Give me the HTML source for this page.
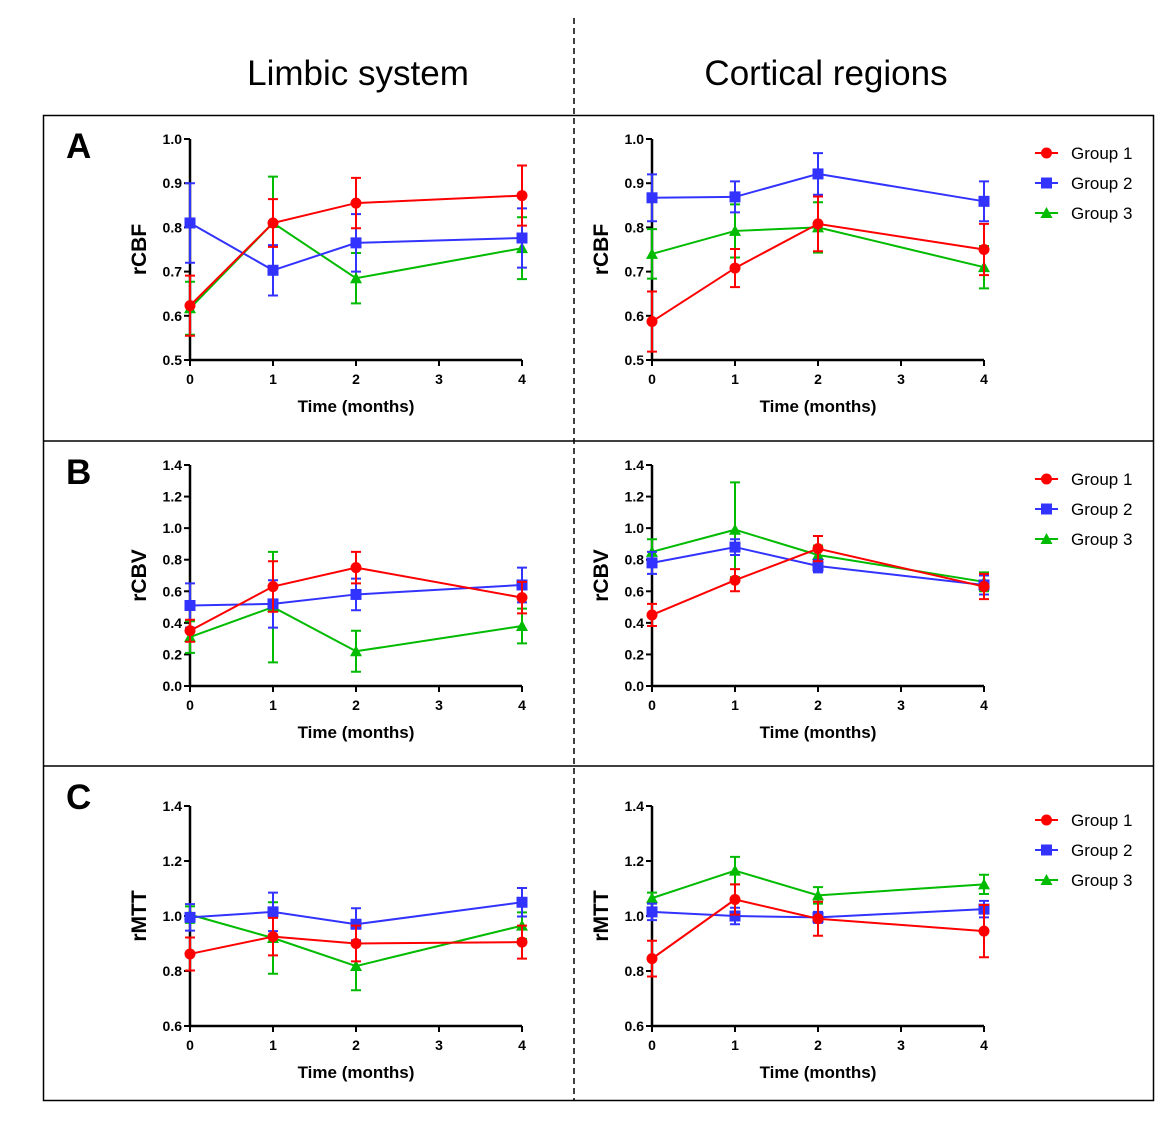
<!DOCTYPE html>
<html><head><meta charset="utf-8">
<style>
html,body{margin:0;padding:0;background:#fff;}
svg{display:block;font-family:"Liberation Sans",Arial,sans-serif;}
</style></head>
<body>
<svg id="fig" width="1174" height="1125" viewBox="0 0 1174 1125" xmlns="http://www.w3.org/2000/svg">
<rect x="0" y="0" width="1174" height="1125" fill="#fff"/>
<text x="358" y="85" font-size="35" text-anchor="middle">Limbic system</text>
<text x="826" y="85" font-size="35" text-anchor="middle">Cortical regions</text>
<rect x="43.5" y="115.5" width="1110" height="985" fill="none" stroke="#000" stroke-width="1.5"/>
<line x1="43" y1="441" x2="1153" y2="441" stroke="#000" stroke-width="1.5"/>
<line x1="43" y1="766" x2="1153" y2="766" stroke="#000" stroke-width="1.5"/>
<line x1="574" y1="18" x2="574" y2="1100" stroke="#000" stroke-width="1.5" stroke-dasharray="6,4"/>
<text x="66" y="158" font-size="35" font-weight="bold">A</text>
<text x="66" y="484" font-size="35" font-weight="bold">B</text>
<text x="66" y="809" font-size="35" font-weight="bold">C</text>
<g id="plots"></g>
</svg>
<script>
// x categories (months)
const months = [0, 1, 2, 4];
const xTicks = [0, 1, 2, 3, 4];
const groupNames = ["Group 1", "Group 2", "Group 3"];

// Row A: rCBF
const aLeftG1 = [0.623, 0.810, 0.855, 0.872], aLeftG1Err = [0.068, 0.054, 0.057, 0.068];
const aLeftG2 = [0.810, 0.703, 0.765, 0.776], aLeftG2Err = [0.090, 0.057, 0.065, 0.067];
const aLeftG3 = [0.617, 0.810, 0.685, 0.753], aLeftG3Err = [0.060, 0.105, 0.057, 0.070];
const aRightG1 = [0.587, 0.708, 0.808, 0.750], aRightG1Err = [0.068, 0.043, 0.062, 0.058];
const aRightG2 = [0.867, 0.869, 0.921, 0.859], aRightG2Err = [0.053, 0.035, 0.047, 0.045];
const aRightG3 = [0.740, 0.792, 0.800, 0.710], aRightG3Err = [0.056, 0.060, 0.057, 0.048];
const aTicks = ["0.5", "0.6", "0.7", "0.8", "0.9", "1.0"];

// Row B: rCBV
const bLeftG1 = [0.35, 0.63, 0.75, 0.56], bLeftG1Err = [0.07, 0.16, 0.10, 0.10];
const bLeftG2 = [0.51, 0.52, 0.58, 0.64], bLeftG2Err = [0.14, 0.15, 0.10, 0.11];
const bLeftG3 = [0.31, 0.50, 0.22, 0.38], bLeftG3Err = [0.10, 0.35, 0.13, 0.11];
const bRightG1 = [0.45, 0.67, 0.87, 0.63], bRightG1Err = [0.07, 0.07, 0.08, 0.08];
const bRightG2 = [0.78, 0.88, 0.76, 0.64], bRightG2Err = [0.07, 0.05, 0.04, 0.06];
const bRightG3 = [0.85, 0.99, 0.83, 0.66], bRightG3Err = [0.08, 0.30, 0.06, 0.06];
const bTicks = ["0.0", "0.2", "0.4", "0.6", "0.8", "1.0", "1.2", "1.4"];

// Row C: rMTT
const cLeftG1 = [0.862, 0.925, 0.900, 0.905], cLeftG1Err = [0.060, 0.068, 0.065, 0.060];
const cLeftG2 = [0.995, 1.015, 0.970, 1.050], cLeftG2Err = [0.048, 0.070, 0.058, 0.052];
const cLeftG3 = [1.005, 0.920, 0.818, 0.965], cLeftG3Err = [0.030, 0.130, 0.088, 0.048];
const cRightG1 = [0.845, 1.060, 0.990, 0.945], cRightG1Err = [0.065, 0.055, 0.062, 0.095];
const cRightG2 = [1.015, 1.000, 0.995, 1.025], cRightG2Err = [0.030, 0.030, 0.020, 0.030];
const cRightG3 = [1.065, 1.165, 1.075, 1.115], cRightG3Err = [0.020, 0.050, 0.030, 0.035];
const cTicks = ["0.6", "0.8", "1.0", "1.2", "1.4"];

const NS = "http://www.w3.org/2000/svg";
const root = document.getElementById("plots");
const colors = ["#ff0000", "#3333ff", "#00bb00"];
function mk(tag, attrs, parent) {
  const e = document.createElementNS(NS, tag);
  for (const k in attrs) e.setAttribute(k, attrs[k]);
  (parent || root).appendChild(e);
  return e;
}
function marker(g, shape, cx, cy, col) {
  let m;
  if (shape === 0) m = mk("circle", {cx: cx, cy: cy, r: 5.5, fill: col}, g);
  else if (shape === 1) m = mk("rect", {x: cx - 5.5, y: cy - 5.5, width: 11, height: 11, fill: col}, g);
  else m = mk("polygon", {points: `${cx},${cy - 6} ${cx + 6},${cy + 5} ${cx - 6},${cy + 5}`, fill: col}, g);
  return m;
}

function drawPlot(cfg) {
  const {id, x0, yTop, yBot, yMin, yMax, ticks, label, series, errs, legendY} = cfg;
  const xs = v => x0 + v * 83;
  const ys = v => yBot - (v - yMin) / (yMax - yMin) * (yBot - yTop);
  const g = mk("g", {});
  
  
  // axes
  const ya = mk("line", {x1: x0, y1: yTop, x2: x0, y2: yBot, stroke: "#000", "stroke-width": 2.5}, g);
  
  
  const xa = mk("line", {x1: x0, y1: yBot, x2: xs(4), y2: yBot, stroke: "#000", "stroke-width": 2.5}, g);
  
  
  ticks.forEach(t => {
    const y = ys(parseFloat(t));
    mk("line", {x1: x0 - 6, y1: y, x2: x0, y2: y, stroke: "#000", "stroke-width": 2}, g);
    const tx = mk("text", {x: x0 - 8, y: y + 5, "font-size": 14, "font-weight": "bold", "text-anchor": "end"}, g);
    tx.textContent = t;
    
    
  });
  xTicks.forEach(t => {
    const x = xs(t);
    mk("line", {x1: x, y1: yBot, x2: x, y2: yBot + 6, stroke: "#000", "stroke-width": 2}, g);
    const tx = mk("text", {x: x, y: yBot + 24, "font-size": 14, "font-weight": "bold", "text-anchor": "middle"}, g);
    tx.textContent = t;
    
    
  });
  const xt = mk("text", {x: xs(2), y: yBot + 52, "font-size": 17, "font-weight": "bold", "text-anchor": "middle"}, g);
  xt.textContent = "Time (months)";
  
  
  const ymid = (yTop + yBot) / 2;
  const yt = mk("text", {x: x0 - 44, y: ymid, "font-size": 21, "font-weight": "bold", "text-anchor": "middle", transform: `rotate(-90 ${x0 - 44} ${ymid})`}, g);
  yt.textContent = label;
  
  
  // series: draw green, blue, red
  [2, 1, 0].forEach(si => {
    const col = colors[si];
    const vals = series[si], er = errs[si];
    const sg = mk("g", {}, g);
    
    
    vals.forEach((v, i) => {
      const x = xs(months[i]);
      const y1 = ys(v + er[i]), y2 = ys(v - er[i]);
      const eb = mk("path", {d: `M${x},${y1}V${y2}M${x - 5},${y1}H${x + 5}M${x - 5},${y2}H${x + 5}`, stroke: col, "stroke-width": 2, fill: "none"}, sg);
      
      
    });
    const pts = vals.map((v, i) => `${xs(months[i])},${ys(v)}`).join(" ");
    const pl = mk("polyline", {points: pts, stroke: col, "stroke-width": 2, fill: "none"}, sg);
    
    
    vals.forEach((v, i) => {
      const m = marker(sg, si, xs(months[i]), ys(v), col);
      
      
    });
  });
  if (legendY !== undefined) {
    const lg = mk("g", {}, g);
    
    
    groupNames.forEach((n, i) => {
      const y = legendY + i * 30;
      const e = mk("g", {}, lg);
      
      
      mk("line", {x1: 1035, y1: y, x2: 1058, y2: y, stroke: colors[i], "stroke-width": 2}, e);
      marker(e, i, 1046.5, y, colors[i]);
      const t = mk("text", {x: 1071, y: y + 6, "font-size": 17}, e);
      t.textContent = n;
    });
  }
}

drawPlot({id: "plot-a-limbic", x0: 190, yTop: 139, yBot: 360, yMin: 0.5, yMax: 1.0, ticks: aTicks, label: "rCBF",
  series: [aLeftG1, aLeftG2, aLeftG3], errs: [aLeftG1Err, aLeftG2Err, aLeftG3Err]});
drawPlot({id: "plot-a-cortical", x0: 652, yTop: 139, yBot: 360, yMin: 0.5, yMax: 1.0, ticks: aTicks, label: "rCBF",
  series: [aRightG1, aRightG2, aRightG3], errs: [aRightG1Err, aRightG2Err, aRightG3Err], legendY: 153});
drawPlot({id: "plot-b-limbic", x0: 190, yTop: 465, yBot: 686, yMin: 0, yMax: 1.4, ticks: bTicks, label: "rCBV",
  series: [bLeftG1, bLeftG2, bLeftG3], errs: [bLeftG1Err, bLeftG2Err, bLeftG3Err]});
drawPlot({id: "plot-b-cortical", x0: 652, yTop: 465, yBot: 686, yMin: 0, yMax: 1.4, ticks: bTicks, label: "rCBV",
  series: [bRightG1, bRightG2, bRightG3], errs: [bRightG1Err, bRightG2Err, bRightG3Err], legendY: 479});
drawPlot({id: "plot-c-limbic", x0: 190, yTop: 806, yBot: 1026, yMin: 0.6, yMax: 1.4, ticks: cTicks, label: "rMTT",
  series: [cLeftG1, cLeftG2, cLeftG3], errs: [cLeftG1Err, cLeftG2Err, cLeftG3Err]});
drawPlot({id: "plot-c-cortical", x0: 652, yTop: 806, yBot: 1026, yMin: 0.6, yMax: 1.4, ticks: cTicks, label: "rMTT",
  series: [cRightG1, cRightG2, cRightG3], errs: [cRightG1Err, cRightG2Err, cRightG3Err], legendY: 820});
</script>
</body></html>
